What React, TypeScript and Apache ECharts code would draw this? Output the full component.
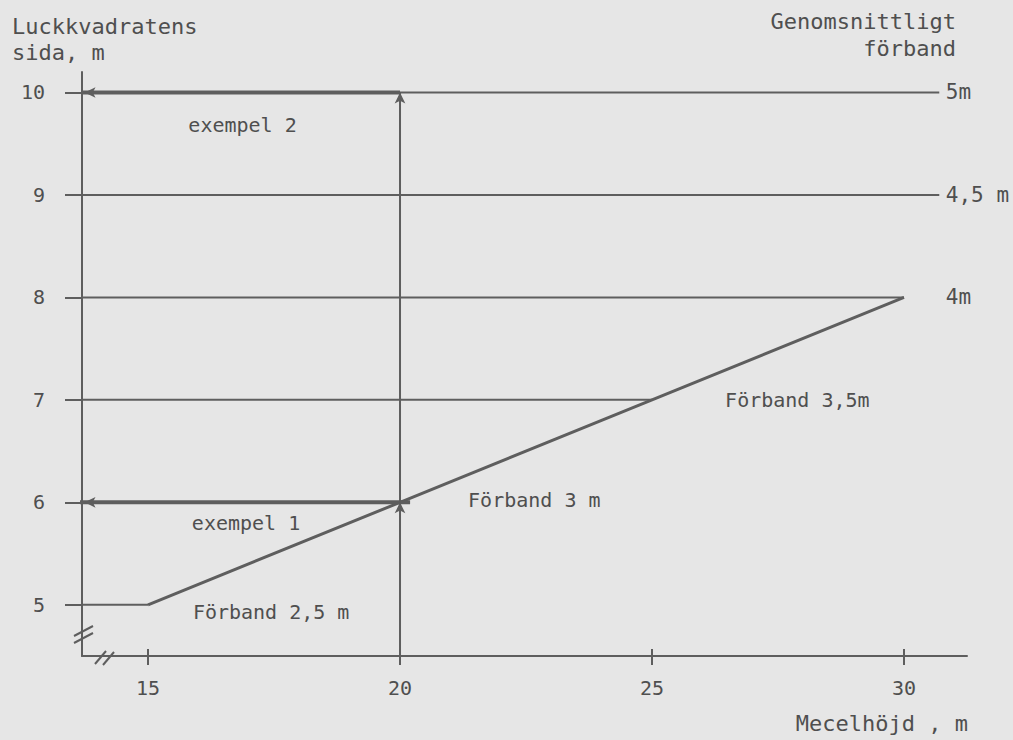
import React, { useEffect, useRef } from "react";
import * as echarts from "echarts";

// ---- data ----
const xTicks = [15, 20, 25, 30];
const yTicks = [5, 6, 7, 8, 9, 10];
const xMin = 13.69;
const xMax = 31.25;
const yMin = 4.5;
const yMax = 10.2;

// horizontal level lines: y value and where they stop on the x axis
const levelY = [10, 9, 8, 7, 5];
const levelEndX = [30.7, 30.7, 30, 25, 15];

// Förband curve (mean spacing boundary)
const forbandX = [15, 20, 25, 30];
const forbandY = [5, 6, 7, 8];

// examples: reading from Mecelhöjd 20 m
const exempelX = 20;
const exempel1Y = 6;
const exempel2Y = 10;

// right-hand labels: average spacing
const rightLabels = ["5m", "4,5 m", "4m"];
const rightLabelY = [10, 9, 8];
const rightLabelX = 30.83;

// in-plot annotations [x, y, text]
const annotations: [number, number, string][] = [
  [15.8, 9.68, "exempel 2"],
  [15.87, 5.8, "exempel 1"],
  [15.89, 4.93, "Förband 2,5 m"],
  [21.35, 6.02, "Förband 3 m"],
  [26.45, 7.0, "Förband 3,5m"],
];

const FONT = "DejaVu Sans Mono";
const INK = "#5e5e5e";
const TXT = "#4f4f4f";
const BG = "#e6e6e6";

export default function App() {
  const ref = useRef<HTMLDivElement>(null);
  useEffect(() => {
    if (!ref.current) return;
    const chart = echarts.init(ref.current, null, { renderer: "svg" });

    const levelSeries = levelY.map((y, i) => ({
      type: "line",
      data: [
        [xMin, y],
        [levelEndX[i], y],
      ],
      symbol: "none",
      clip: false,
      silent: true,
      lineStyle: { color: INK, width: 2 },
    }));

    const arrowLine = (a: number[], b: number[]) => [
      { coord: a, symbol: "none" },
      { coord: b, symbol: "arrow" },
    ];

    const labelStyle = (size: number) => ({
      show: true,
      position: "right",
      distance: 0,
      formatter: (p: any) => p.name,
      color: TXT,
      opacity: 1,
      fontFamily: FONT,
      fontSize: size,
    });

    chart.setOption({
      animation: false,
      backgroundColor: BG,
      grid: { left: 82, right: 46, top: 72, bottom: 84 },
      xAxis: [
        {
          type: "value",
          min: xMin,
          max: xMax,
          axisLine: { show: true, lineStyle: { color: INK, width: 2 } },
          axisTick: {
            show: true,
            customValues: xTicks,
            length: 9,
            lineStyle: { color: INK, width: 2 },
          },
          axisLabel: {
            customValues: xTicks,
            margin: 22,
            color: TXT,
            fontFamily: FONT,
            fontSize: 20,
          },
          splitLine: { show: false },
        },
        {
          type: "value",
          position: "bottom",
          min: xMin,
          max: xMax,
          axisLine: { show: false },
          axisTick: {
            show: true,
            inside: true,
            customValues: xTicks,
            length: 7,
            lineStyle: { color: INK, width: 2 },
          },
          axisLabel: { show: false },
          splitLine: { show: false },
        },
      ],
      yAxis: {
        type: "value",
        min: yMin,
        max: yMax,
        axisLine: { show: true, lineStyle: { color: INK, width: 2 } },
        axisTick: {
          show: true,
          customValues: yTicks,
          length: 17,
          lineStyle: { color: INK, width: 2 },
        },
        axisLabel: {
          customValues: yTicks,
          margin: 37,
          color: TXT,
          fontFamily: FONT,
          fontSize: 20,
        },
        splitLine: { show: false },
      },
      series: [
        ...levelSeries,
        {
          type: "line",
          data: forbandX.map((x, i) => [x, forbandY[i]]),
          symbol: "none",
          clip: false,
          silent: true,
          lineStyle: { color: INK, width: 3 },
        },
        {
          type: "line",
          data: [
            [exempelX, yMin],
            [exempelX, exempel2Y],
          ],
          symbol: "none",
          clip: false,
          silent: true,
          lineStyle: { color: INK, width: 2 },
          markLine: {
            silent: true,
            symbolSize: [8, 11],
            label: { show: false },
            lineStyle: { color: INK, width: 2, type: "solid" },
            data: [
              arrowLine([exempelX, exempel2Y - 0.35], [exempelX, exempel2Y]),
              arrowLine([exempelX, exempel1Y - 0.35], [exempelX, exempel1Y]),
              arrowLine([xMin + 0.6, exempel2Y], [xMin + 0.05, exempel2Y]),
              arrowLine([xMin + 0.6, exempel1Y], [xMin + 0.05, exempel1Y]),
            ],
          },
        },
        {
          type: "line",
          data: [
            [xMin, exempel2Y],
            [exempelX, exempel2Y],
          ],
          symbol: "none",
          clip: false,
          silent: true,
          lineStyle: { color: INK, width: 4 },
        },
        {
          type: "line",
          data: [
            [xMin - 0.25, exempel1Y],
            [exempelX + 0.2, exempel1Y],
          ],
          symbol: "none",
          clip: false,
          silent: true,
          lineStyle: { color: INK, width: 4 },
        },
        {
          type: "scatter",
          symbolSize: 0,
          silent: true,
          clip: false,
          itemStyle: { opacity: 1 },
          data: annotations.map((a) => ({ value: [a[0], a[1]], name: a[2] })),
          label: labelStyle(20),
        },
        {
          type: "scatter",
          symbolSize: 0,
          silent: true,
          clip: false,
          itemStyle: { opacity: 1 },
          data: rightLabels.map((t, i) => ({ value: [rightLabelX, rightLabelY[i]], name: t })),
          label: labelStyle(21),
        },
      ],
      graphic: [
        {
          type: "text",
          left: 12,
          top: 13,
          style: {
            text: "Luckkvadratens\nsida, m",
            fill: TXT,
            font: `22px '${FONT}'`,
            lineHeight: 26,
          },
        },
        {
          type: "text",
          right: 1013 - 956,
          top: 10,
          style: { text: "Genomsnittligt", fill: TXT, font: `22px '${FONT}'` },
        },
        {
          type: "text",
          right: 1013 - 956,
          top: 37,
          style: { text: "förband", fill: TXT, font: `22px '${FONT}'` },
        },
        {
          type: "text",
          right: 1013 - 968,
          top: 712,
          style: {
            text: "Mecelhöjd , m",
            fill: TXT,
            font: `22px '${FONT}'`,
          },
        },
        // axis break marks
        { type: "rect", shape: { x: 76, y: 625, width: 14, height: 18 }, style: { fill: BG } },
        { type: "line", shape: { x1: 74, y1: 636, x2: 93, y2: 626 }, style: { stroke: INK, lineWidth: 2 } },
        { type: "line", shape: { x1: 74, y1: 643, x2: 93, y2: 633 }, style: { stroke: INK, lineWidth: 2 } },
        { type: "rect", shape: { x: 98, y: 650, width: 16, height: 12 }, style: { fill: BG } },
        { type: "line", shape: { x1: 95, y1: 664, x2: 106, y2: 651 }, style: { stroke: INK, lineWidth: 2 } },
        { type: "line", shape: { x1: 103, y1: 665, x2: 114, y2: 652 }, style: { stroke: INK, lineWidth: 2 } },
      ],
    });
    return () => chart.dispose();
  }, []);
  return (
    <div
      ref={ref}
      style={{ position: "absolute", left: 0, top: 0, width: 1013, height: 740 }}
    />
  );
}
